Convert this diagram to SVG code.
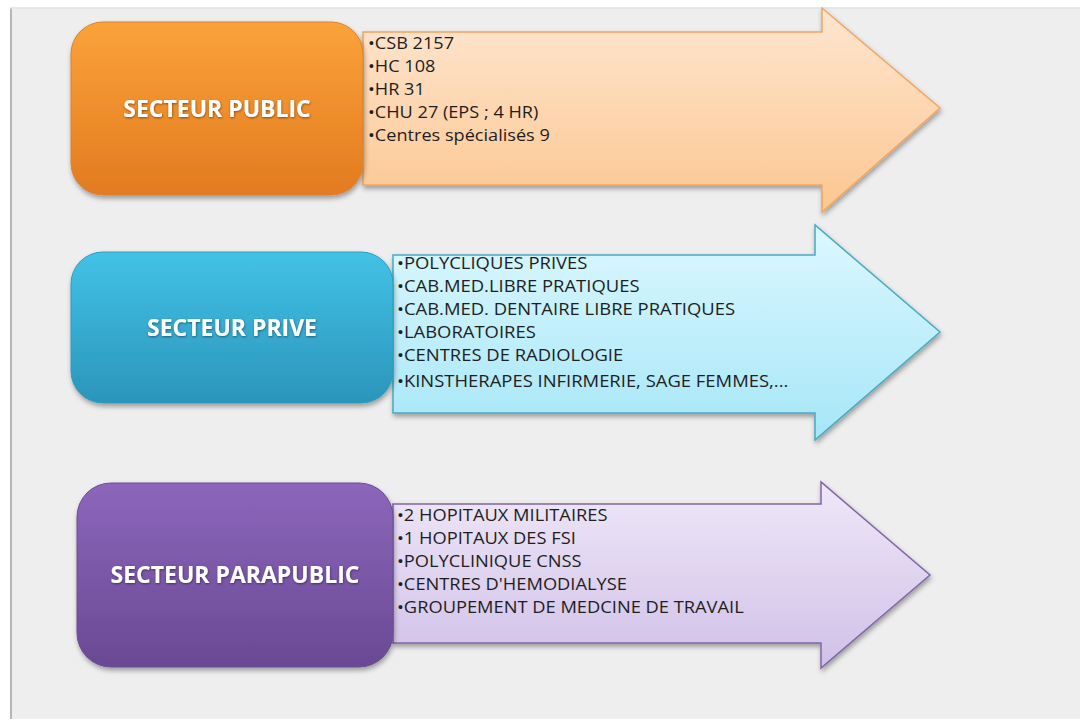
<svg xmlns="http://www.w3.org/2000/svg" width="1080" height="722" viewBox="0 0 1080 722">
<defs>
<linearGradient id="gOr" x1="0" y1="0" x2="0" y2="1"><stop offset="0" stop-color="#fba23a"/><stop offset="1" stop-color="#e27b20"/></linearGradient>
<linearGradient id="gBl" x1="0" y1="0" x2="0" y2="1"><stop offset="0" stop-color="#42c2e6"/><stop offset="1" stop-color="#2b95ba"/></linearGradient>
<linearGradient id="gPu" x1="0" y1="0" x2="0" y2="1"><stop offset="0" stop-color="#8c66bb"/><stop offset="1" stop-color="#6a4994"/></linearGradient>
<linearGradient id="aOr" x1="0" y1="0" x2="0" y2="1"><stop offset="0" stop-color="#fee6d0"/><stop offset="1" stop-color="#fcc690"/></linearGradient>
<linearGradient id="aBl" x1="0" y1="0" x2="0" y2="1"><stop offset="0" stop-color="#dcf8ff"/><stop offset="1" stop-color="#a6e6f7"/></linearGradient>
<linearGradient id="aPu" x1="0" y1="0" x2="0" y2="1"><stop offset="0" stop-color="#efe8f8"/><stop offset="1" stop-color="#d0c0e8"/></linearGradient>
<filter id="sh" x="-10%" y="-10%" width="125%" height="130%"><feDropShadow dx="1" dy="3" stdDeviation="2.5" flood-color="#000" flood-opacity="0.35"/></filter>
<filter id="tsh" x="-10%" y="-30%" width="120%" height="160%"><feDropShadow dx="0.5" dy="1" stdDeviation="0.8" flood-color="#000" flood-opacity="0.45"/></filter>
</defs>
<style>
.lbl{font-family:"Open Sans","Liberation Sans",sans-serif;font-weight:bold;font-size:23px;fill:#ffffff;text-anchor:middle;dominant-baseline:central}
.it{font-family:"Open Sans","Liberation Sans",sans-serif;font-size:15.5px;fill:#1e1e1e;dominant-baseline:central}
</style>
<rect x="0" y="0" width="1080" height="722" fill="#ffffff"/>
<rect x="10" y="8" width="1072" height="711" fill="#eeeeee"/>
<line x1="11" y1="8" x2="11" y2="719" stroke="#b5b5b5" stroke-width="2"/>
<line x1="10" y1="8" x2="1080" y2="8" stroke="#e2e2e2" stroke-width="1.5"/>

<g id="connectors">
<path d="M363 32 H822 V8 L940 108 L822 212 V185 H363 Z" fill="url(#aOr)" stroke="#f2a462" stroke-width="1.5" filter="url(#sh)"/>
<path d="M393 255 H815 V225 L940 332 L815 440 V413 H393 Z" fill="url(#aBl)" stroke="#4aa9c4" stroke-width="1.5" filter="url(#sh)"/>
<path d="M393 504 H821 V482 L930 575 L821 668 V643 H393 Z" fill="url(#aPu)" stroke="#8266a6" stroke-width="1.5" filter="url(#sh)"/>
</g>

<g id="public">
<rect x="71" y="22" width="292" height="173" rx="32" fill="url(#gOr)" stroke="#d9822e" stroke-width="1" filter="url(#sh)"/>
<text class="lbl" x="217" y="108" filter="url(#tsh)">SECTEUR PUBLIC</text>
<g transform="translate(368 0) scale(1.17 1)">
<text class="it" x="0" y="43">•CSB 2157</text>
<text class="it" x="0" y="66">•HC 108</text>
<text class="it" x="0" y="89">•HR 31</text>
<text class="it" x="0" y="112">•CHU 27 (EPS ; 4 HR)</text>
<text class="it" x="0" y="135">•Centres spécialisés 9</text>
</g>
</g>

<g id="prive">
<rect x="71" y="252" width="322" height="151" rx="32" fill="url(#gBl)" stroke="#2c9dc0" stroke-width="1" filter="url(#sh)"/>
<text class="lbl" x="232" y="327" filter="url(#tsh)">SECTEUR PRIVE</text>
<g transform="translate(397 0) scale(1.19 1)">
<text class="it" x="0" y="263">•POLYCLIQUES PRIVES</text>
<text class="it" x="0" y="286">•CAB.MED.LIBRE PRATIQUES</text>
<text class="it" x="0" y="309">•CAB.MED. DENTAIRE LIBRE PRATIQUES</text>
<text class="it" x="0" y="332">•LABORATOIRES</text>
<text class="it" x="0" y="355">•CENTRES DE RADIOLOGIE</text>
<text class="it" x="0" y="381">•KINSTHERAPES INFIRMERIE, SAGE FEMMES,...</text>
</g>
</g>

<g id="parapublic">
<rect x="77" y="483" width="316" height="184" rx="34" fill="url(#gPu)" stroke="#6c4c98" stroke-width="1" filter="url(#sh)"/>
<text class="lbl" x="235" y="574" filter="url(#tsh)">SECTEUR PARAPUBLIC</text>
<g transform="translate(397 0) scale(1.18 1)">
<text class="it" x="0" y="515">•2 HOPITAUX MILITAIRES</text>
<text class="it" x="0" y="538">•1 HOPITAUX DES FSI</text>
<text class="it" x="0" y="561">•POLYCLINIQUE CNSS</text>
<text class="it" x="0" y="584">•CENTRES D'HEMODIALYSE</text>
<text class="it" x="0" y="607">•GROUPEMENT DE MEDCINE DE TRAVAIL</text>
</g>
</g>
</svg>
